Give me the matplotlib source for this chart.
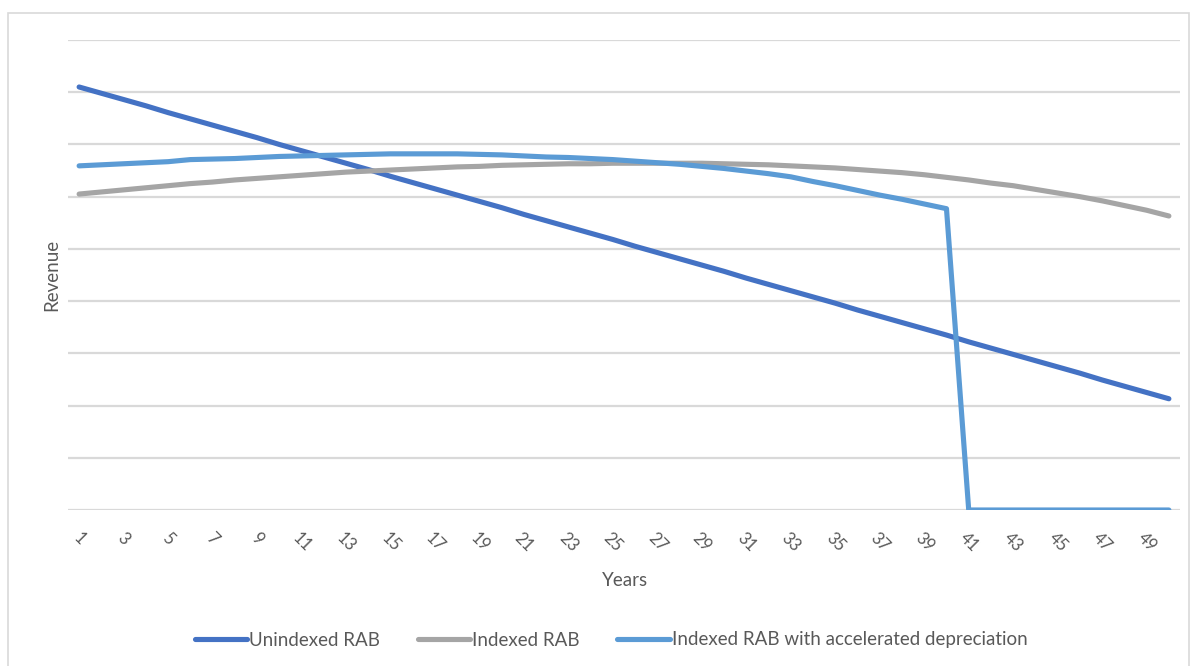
import matplotlib
matplotlib.use("Agg")
import matplotlib.pyplot as plt
from matplotlib.patches import Rectangle

plt.rcParams['font.family'] = ['Lato', 'DejaVu Sans']

# chart data (revenue, arbitrary units)
years = list(range(1, 51))
unindexed = [8.10, 7.98, 7.86, 7.74, 7.61, 7.49, 7.37, 7.25, 7.13, 7.00,
             6.88, 6.76, 6.64, 6.52, 6.39, 6.27, 6.15, 6.03, 5.91, 5.79,
             5.66, 5.54, 5.42, 5.30, 5.18, 5.05, 4.93, 4.81, 4.69, 4.57,
             4.44, 4.32, 4.20, 4.08, 3.96, 3.83, 3.71, 3.59, 3.47, 3.35,
             3.22, 3.10, 2.98, 2.86, 2.74, 2.62, 2.49, 2.37, 2.25, 2.13]
indexed = [6.05, 6.09, 6.13, 6.17, 6.21, 6.25, 6.28, 6.32, 6.35, 6.38,
           6.41, 6.44, 6.47, 6.49, 6.51, 6.53, 6.55, 6.57, 6.58, 6.60,
           6.61, 6.62, 6.63, 6.63, 6.64, 6.64, 6.64, 6.64, 6.64, 6.63,
           6.62, 6.61, 6.59, 6.57, 6.55, 6.52, 6.49, 6.46, 6.42, 6.37,
           6.32, 6.26, 6.21, 6.14, 6.07, 6.00, 5.92, 5.83, 5.74, 5.63]
accelerated = [6.59, 6.61, 6.63, 6.65, 6.67, 6.71, 6.72, 6.73, 6.75, 6.77,
               6.78, 6.79, 6.80, 6.81, 6.82, 6.82, 6.82, 6.82, 6.81, 6.80,
               6.78, 6.76, 6.75, 6.73, 6.71, 6.68, 6.65, 6.62, 6.58, 6.54,
               6.49, 6.44, 6.38, 6.29, 6.21, 6.12, 6.03, 5.95, 5.86, 5.77,
               0, 0, 0, 0, 0, 0, 0, 0, 0, 0]
series_names = ["Unindexed RAB", "Indexed RAB", "Indexed RAB with accelerated depreciation"]
series_colors = ["#4472C4", "#A5A5A5", "#5B9BD5"]
xtick_years = list(range(1, 50, 2))

W, H = 1197, 666
fig = plt.figure(figsize=(W / 100, H / 100), dpi=100)

# light chart border
fig.patches.append(Rectangle((8 / W, -0.05), 1181 / W, 1.05 - 13 / H,
                             transform=fig.transFigure, fill=False,
                             edgecolor="#d9d9d9", lw=1.2))

ax = fig.add_axes([68 / W, 1 - 510 / H, 1112 / W, 470 / H])

for vals, name, col in zip([unindexed, indexed, accelerated], series_names, series_colors):
    ax.plot(years, vals, color=col, lw=3.7, label=name, solid_capstyle="round",
            solid_joinstyle="round")

ax.set_xlim(0.5, 50.5)
ax.set_ylim(0, 9)
ax.set_yticks(range(0, 10))
ax.set_yticklabels([])
ax.grid(axis="y", color="#d9d9d9", lw=1.6)
ax.set_axisbelow(True)
for s in ax.spines.values():
    s.set_visible(False)
ax.tick_params(axis="both", length=0)

ax.set_xticks(xtick_years)
ax.set_xticklabels([str(y) for y in xtick_years], rotation=-45, ha="center",
                   va="top", fontsize=12, color="#595959")
ax.tick_params(axis="x", pad=14)

fig.text(625 / W, 1 - 580 / H, "Years", ha="center", va="center", fontsize=13.5, color="#595959")
fig.text(52 / W, 1 - 275 / H, "Revenue", ha="center", va="center", rotation=90,
         fontsize=13.5, color="#595959")

leg = fig.legend(loc="center", bbox_to_anchor=(611 / W, 1 - 640 / H), ncol=3,
                 frameon=False, fontsize=13.5, handlelength=2.8, handletextpad=0.1,
                 columnspacing=2.0)
for t in leg.get_texts():
    t.set_color("#595959")

fig.savefig("out.png", dpi=100)
